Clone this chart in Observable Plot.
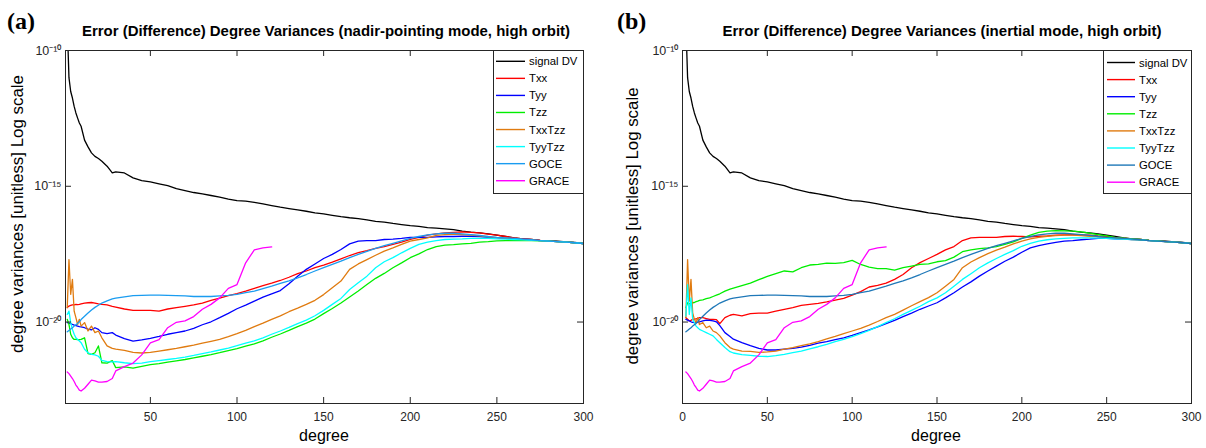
<!DOCTYPE html>
<html>
<head>
<meta charset="utf-8">
<script src="https://cdn.jsdelivr.net/npm/d3@7"></script>
<script src="https://cdn.jsdelivr.net/npm/@observablehq/plot@0.6"></script>
<style>
  html, body { margin: 0; padding: 0; background: #fff; }
  #wrap { position: relative; width: 1206px; height: 448px; overflow: hidden; background: #fff; }
  #wrap > svg { position: absolute; top: 0; }
</style>
</head>
<body>
<div id="wrap"></div>
<script>
// ---------- data (log10 of degree variance) ----------
const degrees = [2,3,4,5,6,7,8,9,10,12,14,16,18,20,22,25,28,30,35,40,45,50,55,60,65,70,75,80,85,90,95,100,105,110,115,120,125,130,135,140,145,150,155,160,165,170,175,180,185,190,195,200,205,210,215,220,225,230,235,240,245,250,255,260,265,270,275,280,285,290,295,300];

const seriesNames = ["signal DV","Txx","Tyy","Tzz","TxxTzz","TyyTzz","GOCE","GRACE"];
const colorsA = ["#000000","#ff0000","#0000ff","#00ee00","#e07b10","#00ffff","#1a9cf0","#ff00ff"];
const colorsB = ["#000000","#ff0000","#0000ff","#00ee00","#e07b10","#00ffff","#1f78b8","#ff00ff"];

const signalDV = [-9.0,-11.0,-11.51,-11.75,-12.06,-12.3,-12.49,-12.67,-12.79,-13.3,-13.55,-13.77,-13.9,-13.98,-14.08,-14.26,-14.51,-14.47,-14.51,-14.69,-14.79,-14.84,-14.91,-14.98,-15.09,-15.16,-15.23,-15.28,-15.34,-15.4,-15.47,-15.53,-15.55,-15.59,-15.65,-15.71,-15.77,-15.82,-15.87,-15.92,-15.98,-16.02,-16.07,-16.12,-16.16,-16.19,-16.24,-16.29,-16.32,-16.37,-16.41,-16.45,-16.48,-16.52,-16.54,-16.57,-16.6,-16.65,-16.69,-16.72,-16.75,-16.8,-16.85,-16.9,-16.94,-16.96,-16.99,-17.0,-17.02,-17.05,-17.07,-17.11];
const goce = [-20.36,-20.31,-20.26,-20.21,-20.15,-20.1,-20.05,-19.99,-19.91,-19.79,-19.67,-19.56,-19.46,-19.38,-19.3,-19.22,-19.15,-19.12,-19.07,-19.03,-19.02,-19.01,-19.01,-19.02,-19.03,-19.04,-19.06,-19.06,-19.06,-19.04,-19.02,-18.98,-18.92,-18.86,-18.77,-18.68,-18.58,-18.48,-18.37,-18.25,-18.12,-18.0,-17.88,-17.76,-17.63,-17.51,-17.4,-17.29,-17.19,-17.1,-17.01,-16.92,-16.85,-16.79,-16.75,-16.73,-16.73,-16.75,-16.78,-16.81,-16.85,-16.88,-16.9,-16.92,-16.95,-16.97,-17.0,-17.02,-17.04,-17.06,-17.08,-17.11];
const grace = [-21.84,-21.9,-21.99,-22.08,-22.19,-22.32,-22.41,-22.51,-22.54,-22.44,-22.29,-22.14,-22.17,-22.21,-22.21,-22.19,-22.08,-21.8,-21.64,-21.51,-21.21,-20.77,-20.65,-20.21,-20.01,-19.96,-19.8,-19.53,-19.35,-19.11,-18.76,-18.62,-17.82,-17.34,-17.27,-17.23,null,null,null,null,null,null,null,null,null,null,null,null,null,null,null,null,null,null,null,null,null,null,null,null,null,null,null,null,null,null,null,null,null,null,null,null];

// panel (a): nadir-pointing mode
const aTxx = [-19.47,-19.41,-19.39,-19.37,-19.37,-19.35,-19.36,-19.35,-19.33,-19.3,-19.29,-19.28,-19.3,-19.33,-19.35,-19.37,-19.42,-19.45,-19.52,-19.57,-19.57,-19.57,-19.6,-19.52,-19.47,-19.42,-19.37,-19.3,-19.2,-19.12,-19.03,-18.95,-18.86,-18.76,-18.66,-18.57,-18.47,-18.35,-18.22,-18.12,-18.0,-17.9,-17.79,-17.67,-17.55,-17.44,-17.37,-17.29,-17.22,-17.14,-17.06,-16.96,-16.88,-16.8,-16.75,-16.72,-16.7,-16.68,-16.7,-16.72,-16.76,-16.8,-16.85,-16.9,-16.94,-16.96,-16.99,-17.01,-17.04,-17.06,-17.08,-17.11];
const aTyy = [-20.02,-20.04,-20.06,-20.09,-20.11,-20.13,-20.15,-20.17,-20.18,-20.21,-20.26,-20.29,-20.21,-20.27,-20.39,-20.43,-20.39,-20.48,-20.61,-20.7,-20.66,-20.6,-20.53,-20.45,-20.39,-20.33,-20.23,-20.1,-19.99,-19.84,-19.68,-19.51,-19.38,-19.23,-19.08,-18.96,-18.84,-18.59,-18.31,-18.06,-17.86,-17.66,-17.51,-17.33,-17.12,-17.02,-17.0,-17.0,-16.96,-16.95,-16.92,-16.88,-16.88,-16.88,-16.86,-16.85,-16.85,-16.84,-16.84,-16.85,-16.88,-16.9,-16.92,-16.95,-16.96,-16.97,-17.0,-17.02,-17.04,-17.06,-17.08,-17.11];
const aTzz = [-19.9,-20.09,-20.45,-20.58,-20.64,-20.64,-20.65,-20.65,-20.64,-20.58,-21.16,-21.19,-21.13,-20.88,-21.5,-21.51,-21.42,-21.68,-21.65,-21.7,-21.63,-21.57,-21.53,-21.48,-21.43,-21.38,-21.32,-21.26,-21.2,-21.13,-21.05,-20.98,-20.89,-20.8,-20.69,-20.56,-20.44,-20.31,-20.17,-20.04,-19.89,-19.69,-19.5,-19.3,-19.08,-18.86,-18.62,-18.39,-18.21,-18.0,-17.82,-17.63,-17.49,-17.33,-17.22,-17.17,-17.15,-17.12,-17.1,-17.06,-17.04,-17.01,-17.0,-17.0,-17.0,-17.0,-17.01,-17.02,-17.04,-17.06,-17.08,-17.11];
const aTxxTzz = [-19.47,-17.7,-18.98,-18.43,-19.6,-19.84,-20.09,-19.9,-20.15,-20.02,-20.33,-20.15,-20.39,-20.33,-20.58,-20.88,-20.97,-21.0,-21.04,-21.12,-21.14,-21.12,-21.07,-21.02,-20.97,-20.91,-20.85,-20.78,-20.71,-20.64,-20.54,-20.43,-20.31,-20.17,-20.04,-19.9,-19.77,-19.62,-19.49,-19.35,-19.2,-18.99,-18.74,-18.49,-18.06,-17.86,-17.7,-17.54,-17.39,-17.27,-17.14,-17.02,-16.96,-16.9,-16.81,-16.78,-16.76,-16.78,-16.8,-16.83,-16.86,-16.89,-16.91,-16.94,-16.96,-16.97,-17.0,-17.02,-17.04,-17.06,-17.08,-17.11];
const aTyyTzz = [-19.72,-19.6,-20.02,-20.27,-20.45,-20.58,-20.64,-20.7,-20.76,-21.0,-21.13,-21.19,-21.21,-21.26,-21.41,-21.46,-21.47,-21.46,-21.5,-21.53,-21.51,-21.46,-21.42,-21.38,-21.34,-21.29,-21.23,-21.16,-21.1,-21.03,-20.96,-20.87,-20.78,-20.69,-20.58,-20.45,-20.33,-20.2,-20.06,-19.93,-19.77,-19.57,-19.35,-19.13,-18.8,-18.55,-18.31,-18.0,-17.78,-17.63,-17.45,-17.29,-17.14,-17.06,-17.0,-16.96,-16.95,-16.94,-16.92,-16.92,-16.92,-16.94,-16.95,-16.96,-16.97,-16.99,-17.0,-17.02,-17.04,-17.06,-17.08,-17.11];

// panel (b): inertial mode
const bTxx = [-19.84,-19.9,-19.96,-19.94,-19.9,-19.89,-19.88,-19.87,-19.84,-19.84,-19.87,-19.9,-19.9,-19.91,-20.06,-19.84,-19.75,-19.72,-19.77,-19.69,-19.67,-19.67,-19.6,-19.53,-19.47,-19.39,-19.35,-19.31,-19.26,-19.19,-19.13,-19.01,-18.88,-18.71,-18.65,-18.57,-18.43,-18.25,-18.0,-17.81,-17.66,-17.51,-17.34,-17.22,-17.0,-16.9,-16.88,-16.88,-16.88,-16.85,-16.84,-16.85,-16.86,-16.84,-16.83,-16.8,-16.79,-16.78,-16.79,-16.8,-16.83,-16.85,-16.89,-16.91,-16.94,-16.96,-16.99,-17.01,-17.04,-17.06,-17.08,-17.11];
const bTyy = [-19.9,-19.93,-19.96,-19.99,-20.01,-20.02,-20.02,-20.01,-19.99,-19.96,-19.93,-19.94,-19.96,-19.99,-20.13,-20.39,-20.53,-20.63,-20.76,-20.87,-20.97,-21.03,-21.03,-21.0,-20.97,-20.92,-20.86,-20.78,-20.72,-20.65,-20.58,-20.49,-20.39,-20.29,-20.18,-20.06,-19.94,-19.8,-19.67,-19.53,-19.41,-19.29,-19.11,-18.92,-18.71,-18.52,-18.31,-18.12,-17.94,-17.76,-17.61,-17.43,-17.27,-17.19,-17.12,-17.07,-17.02,-17.0,-16.97,-16.95,-16.92,-16.92,-16.94,-16.95,-16.96,-16.97,-17.0,-17.02,-17.04,-17.06,-17.08,-17.11];
const bTzz = [-19.47,-19.29,-19.33,-19.3,-19.29,-19.28,-19.25,-19.23,-19.2,-19.18,-19.14,-19.11,-19.06,-19.01,-18.96,-18.86,-18.79,-18.75,-18.66,-18.57,-18.44,-18.32,-18.22,-18.12,-18.15,-18.0,-17.9,-17.88,-17.83,-17.84,-17.81,-17.73,-17.88,-17.98,-18.03,-18.03,-18.09,-18.0,-17.94,-17.88,-17.86,-17.78,-17.74,-17.61,-17.41,-17.34,-17.3,-17.27,-17.22,-17.14,-17.05,-16.92,-16.8,-16.7,-16.65,-16.63,-16.64,-16.65,-16.68,-16.73,-16.78,-16.83,-16.88,-16.91,-16.94,-16.96,-16.99,-17.01,-17.04,-17.06,-17.08,-17.11];
const bTxxTzz = [-19.84,-17.7,-19.23,-18.43,-19.66,-19.9,-20.02,-19.84,-20.09,-20.02,-20.21,-20.15,-20.33,-20.39,-20.51,-20.76,-20.94,-21.0,-21.07,-21.08,-21.12,-21.1,-21.07,-21.0,-20.94,-20.87,-20.8,-20.72,-20.62,-20.53,-20.43,-20.33,-20.23,-20.11,-19.98,-19.84,-19.72,-19.56,-19.4,-19.25,-19.1,-18.92,-18.68,-18.43,-18.0,-17.79,-17.63,-17.48,-17.35,-17.24,-17.12,-17.02,-16.94,-16.88,-16.84,-16.82,-16.8,-16.8,-16.82,-16.84,-16.86,-16.89,-16.91,-16.94,-16.96,-16.97,-17.0,-17.02,-17.04,-17.06,-17.08,-17.11];
const bTyyTzz = [-19.78,-18.62,-19.72,-19.11,-19.9,-20.02,-20.15,-20.21,-20.27,-20.33,-20.39,-20.45,-20.51,-20.64,-20.76,-20.94,-21.09,-21.14,-21.2,-21.23,-21.26,-21.27,-21.24,-21.19,-21.13,-21.07,-20.99,-20.91,-20.82,-20.72,-20.64,-20.54,-20.43,-20.31,-20.17,-20.02,-19.88,-19.72,-19.57,-19.42,-19.25,-19.11,-18.92,-18.68,-18.43,-18.22,-18.0,-17.82,-17.66,-17.51,-17.37,-17.21,-17.1,-17.02,-16.97,-16.94,-16.92,-16.9,-16.9,-16.9,-16.91,-16.92,-16.94,-16.95,-16.96,-16.97,-17.0,-17.02,-17.04,-17.06,-17.08,-17.11];

const xTicksA = [50,100,150,200,250,300];
const xTicksB = [0,50,100,150,200,250,300];
const yTicks = [1e-20,1e-15,1e-10];

const titleA = "Error (Difference) Degree Variances (nadir-pointing mode, high orbit)";
const titleB = "Error (Difference) Degree Variances (inertial mode, high orbit)";
const yLabel = "degree variances [unitless] Log scale";
const xLabel = "degree";

// ---------- build tidy tables ----------
function tidy(list) {
  const out = [];
  list.forEach((exps, k) => {
    degrees.forEach((d, i) => {
      if (exps[i] != null) out.push({degree: d, value: Math.pow(10, exps[i]), series: seriesNames[k]});
    });
  });
  return out;
}
const dataA = tidy([signalDV, aTxx, aTyy, aTzz, aTxxTzz, aTyyTzz, goce, grace]);
const dataB = tidy([signalDV, bTxx, bTyy, bTzz, bTxxTzz, bTyyTzz, goce, grace]);

const supMap = {"-":"\u207B","0":"\u2070","1":"\u00B9","2":"\u00B2","3":"\u00B3","4":"\u2074","5":"\u2075","6":"\u2076","7":"\u2077","8":"\u2078","9":"\u2079"};
const fmtPow = d => "10" + String(Math.round(Math.log10(d))).split("").map(c => supMap[c]).join("");

const W = 603, H = 448, MT = 50, MB = 45;
const axisColor = "#262626";

function panel(data, xDomain, xTicks, colors, ml, mr) {
  const pw = W - ml - mr, ph = H - MT - MB, tk = 6;
  return Plot.plot({
    width: W, height: H,
    marginLeft: ml, marginRight: mr, marginTop: MT, marginBottom: MB,
    x: {domain: xDomain},
    y: {type: "log", domain: [1e-23, 1e-10]},
    color: {domain: seriesNames, range: colors},
    style: {fontFamily: "'Liberation Sans', Arial, sans-serif", fontSize: "12px", color: axisColor, background: "white", overflow: "visible"},
    marks: [
      Plot.line(data, {x: "degree", y: "value", z: "series", stroke: "series", strokeWidth: 1.3, clip: true}),
      Plot.frame({stroke: axisColor, strokeWidth: 1}),
      Plot.ruleX(xTicks, {x: d => d, insetTop: ph - tk, stroke: axisColor}),
      Plot.ruleX(xTicks, {x: d => d, insetBottom: ph - tk, stroke: axisColor}),
      Plot.ruleY(yTicks, {y: d => d, insetRight: pw - tk, stroke: axisColor}),
      Plot.ruleY(yTicks, {y: d => d, insetLeft: pw - tk, stroke: axisColor}),
      Plot.axisX({ticks: xTicks, tickSize: 0, tickPadding: 9, label: null, fontSize: 12}),
      Plot.axisY({ticks: yTicks, tickSize: 0, tickPadding: 4, label: null, tickFormat: fmtPow, fontSize: 12.5})
    ]
  });
}

const wrap = document.getElementById("wrap");
const svgA = panel(dataA, [1, 300], xTicksA, colorsA, 65, 20);
svgA.style.left = "0px";
wrap.appendChild(svgA);
const svgB = panel(dataB, [0, 300], xTicksB, colorsB, 79, 15);
svgB.style.left = "603px";
wrap.appendChild(svgB);

// ---------- overlay: panel letters, titles, axis labels, legends ----------
const ov = d3.create("svg").attr("width", 1206).attr("height", 448)
  .style("left", "0px").style("pointer-events", "none")
  .style("font-family", "'Liberation Sans', Arial, sans-serif");

function txt(s, x, y, opts = {}) {
  const t = ov.append("text").attr("x", x).attr("y", y).text(s)
    .attr("fill", opts.fill || "#000")
    .attr("font-size", opts.size || 12)
    .attr("font-weight", opts.weight || "normal")
    .attr("text-anchor", opts.anchor || "start");
  if (opts.family) t.attr("font-family", opts.family);
  if (opts.length) t.attr("textLength", opts.length).attr("lengthAdjust", "spacingAndGlyphs");
  if (opts.rotate) t.attr("transform", `rotate(${opts.rotate},${x},${y})`);
  return t;
}

txt("(a)", 7, 29, {size: 24, weight: "bold", family: "'Liberation Serif', 'Times New Roman', serif"});
txt("(b)", 617, 29, {size: 24, weight: "bold", family: "'Liberation Serif', 'Times New Roman', serif"});
txt(titleA, 326, 36, {size: 15, weight: "bold", anchor: "middle", length: 488});
txt(titleB, 942, 36, {size: 15, weight: "bold", anchor: "middle", length: 439});
txt(yLabel, 23, 214, {size: 16, anchor: "middle", rotate: -90, length: 278});
txt(yLabel, 638, 226, {size: 16, anchor: "middle", rotate: -90, length: 277});
txt(xLabel, 324, 441, {size: 16, anchor: "middle"});
txt(xLabel, 936, 441, {size: 16, anchor: "middle"});

function legend(x0, x1, y0, y1, lineX0, lineX1, textX, row0, step, colors) {
  ov.append("rect").attr("x", x0 + 0.5).attr("y", y0 + 0.5).attr("width", x1 - x0).attr("height", y1 - y0)
    .attr("fill", "#fff").attr("stroke", axisColor).attr("stroke-width", 1);
  seriesNames.forEach((name, i) => {
    const y = row0 + i * step;
    ov.append("line").attr("x1", lineX0).attr("x2", lineX1).attr("y1", y).attr("y2", y)
      .attr("stroke", colors[i]).attr("stroke-width", 1.4);
    txt(name, textX, y + 4, {size: 11.3});
  });
}
legend(493, 583, 50, 193, 496, 525, 529, 61.3, 17.06, colorsA);
legend(1103, 1191, 50, 193, 1107, 1135, 1139, 62.5, 17.1, colorsB);

wrap.appendChild(ov.node());
</script>
</body>
</html>
